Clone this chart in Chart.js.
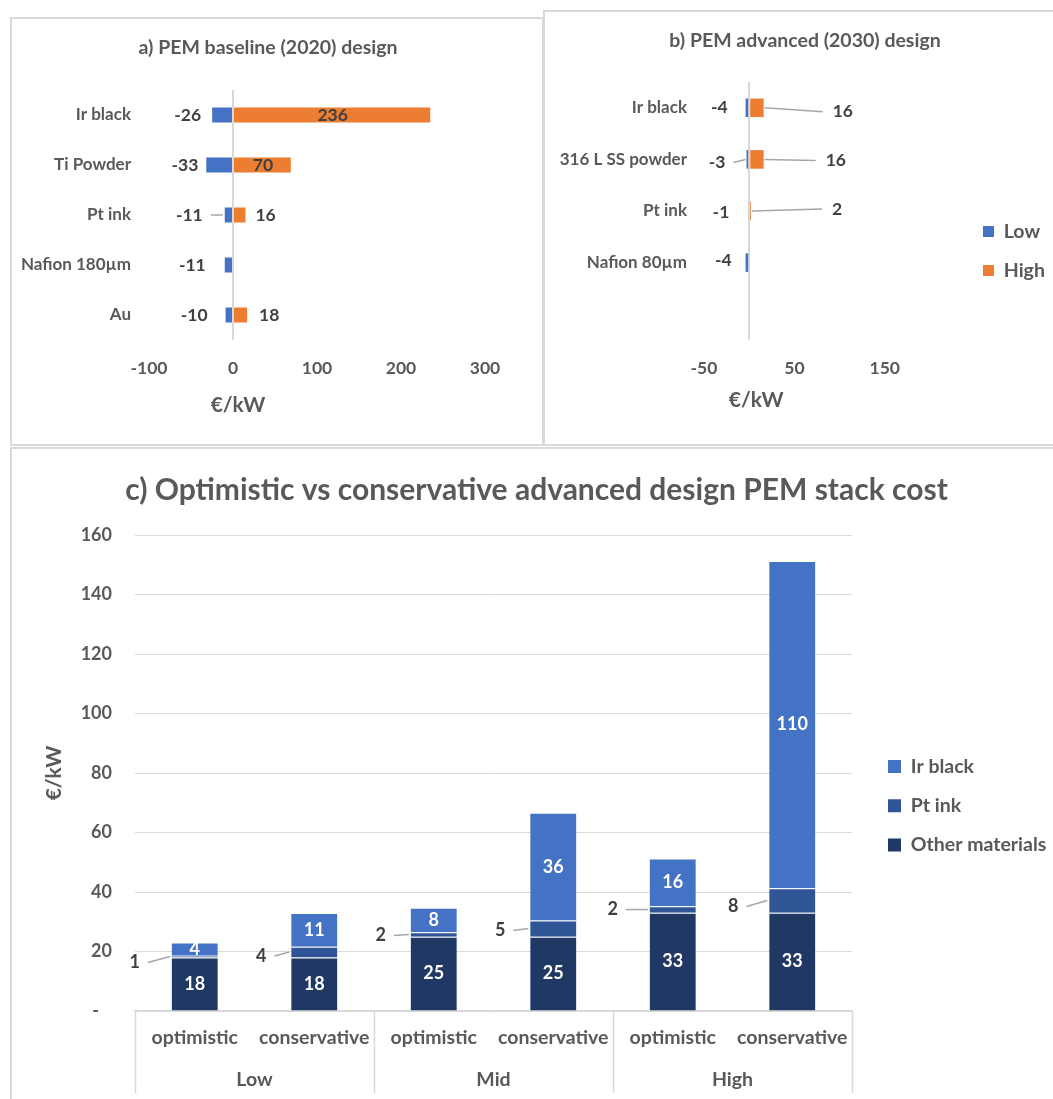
<!DOCTYPE html>
<html>
<head>
<meta charset="utf-8">
<script src="https://cdn.jsdelivr.net/npm/chart.js@4.4.1/dist/chart.umd.min.js"></script>
<style>
  body { margin: 0; background: #fff; width: 1053px; height: 1099px; overflow: hidden; position: relative; }
  .panel { position: absolute; border: 2px solid #d9d9d9; box-sizing: border-box; }
  canvas { position: absolute; }
</style>
</head>
<body>
<div class="panel" style="left:10px;top:17px;width:534px;height:429px"></div>
<div class="panel" style="left:543px;top:10px;width:530px;height:436px"></div>
<div class="panel" style="left:10px;top:447px;width:1060px;height:670px"></div>
<canvas id="chart-a" width="531" height="428" style="left:10px;top:17px"></canvas>
<canvas id="chart-b" width="510" height="435" style="left:543px;top:10px"></canvas>
<canvas id="chart-c" width="1043" height="652" style="left:10px;top:447px"></canvas>

<script>
// ---- datos ----
const catsA = ['Ir black', 'Ti Powder', 'Pt ink', 'Nafion 180µm', 'Au'];
const lowA  = [-26, -33, -11, -11, -10];
const highA = [236, 70, 16, null, 18];
const ticksA = [-100, 0, 100, 200, 300];

const catsB = ['Ir black', '316 L SS powder', 'Pt ink', 'Nafion 80µm', ''];
const lowB  = [-4, -3, -1, -4, null];
const highB = [16, 16, 2, null, null];
const ticksB = [-50, 50, 150];

const scenarios = ['optimistic', 'conservative', 'optimistic', 'conservative', 'optimistic', 'conservative'];
const cases     = ['Low', 'Mid', 'High'];
const otherC = [18, 18, 25, 25, 33, 33];
const ptC    = [0.6, 3.6, 1.5, 5.4, 2.2, 8.3];
const irC    = [4.4, 11.3, 8.2, 36.2, 16.1, 110];

// ---- estilo ----
const BLUE = '#4472C4', ORANGE = '#ED7D31', PT = '#2F5597', NAVY = '#203864';
const GRID = '#d9d9d9', TXT = '#595959', LBL = '#404040';
const EDGE = 'rgba(255,255,255,0.3)';
const EDGE_C = 'rgba(255,255,255,0.18)';
const FAMILY = 'Lato, "Open Sans", sans-serif';

Chart.defaults.font.family = FAMILY;
Chart.defaults.font.size = 17;
Chart.defaults.font.weight = 'bold';
Chart.defaults.color = TXT;
Chart.defaults.animation = false;

const noEdge = chart =>
  Chart.defaults.plugins.legend.labels.generateLabels(chart).map(l => ({ ...l, lineWidth: 0 }));

// etiquetas de valor + líneas guía
const valueLabels = {
  id: 'valueLabels',
  afterDatasetsDraw(chart, args, opts) {
    const ctx = chart.ctx;
    const horiz = chart.options.indexAxis === 'y';
    ctx.save();
    ctx.font = `bold ${opts.size || 17}px ${FAMILY}`;
    ctx.textBaseline = 'middle';
    (opts.series || []).forEach(s => {
      const ds = chart.data.datasets[s.index];
      chart.getDatasetMeta(s.index).data.forEach((bar, i) => {
        const v = ds.data[i];
        if (v === null || v === undefined) return;
        const gap = s.gap ? s.gap[i] : 0;
        const dy = s.dy ? s.dy[i] : 0;
        let x, y, align, x0, y0;
        if (horiz) {
          y = bar.y + dy; y0 = bar.y;
          const len = Math.abs(bar.x - bar.base);
          if (s.inside && len > 45) { x = (bar.x + bar.base) / 2; align = 'center'; }
          else if (v < 0) { x = bar.x - gap; align = 'right'; x0 = bar.x - 1; }
          else { x = bar.x + gap; align = 'left'; x0 = bar.x + 1; }
        } else if (s.side === 'left') {
          y0 = (bar.y + bar.base) / 2; y = y0 + dy;
          x0 = bar.x - bar.width / 2 - 1; x = bar.x - bar.width / 2 - gap; align = 'right';
        } else {
          x = bar.x; y = (bar.y + bar.base) / 2; align = 'center';
        }
        if (s.leader && s.leader[i] && align !== 'center') {
          const xe = align === 'right' ? x + 8 : x - 10;
          ctx.strokeStyle = '#a6a6a6';
          ctx.lineWidth = 1.5;
          ctx.beginPath(); ctx.moveTo(x0, y0); ctx.lineTo(xe, y); ctx.stroke();
        }
        ctx.fillStyle = align === 'center' ? s.insideColor : LBL;
        ctx.textAlign = align;
        ctx.fillText(String(Math.round(v)), x, y);
      });
    });
    if (opts.axisTitle) {
      const t = opts.axisTitle;
      ctx.font = `bold 21px ${FAMILY}`;
      ctx.fillStyle = TXT;
      ctx.textAlign = 'center';
      ctx.fillText(t.text, chart.scales.x.getPixelForValue(0) + t.dx, t.y);
    }
    ctx.restore();
  }
};

// título centrado en x fijo, leyenda con ancho y posición fijos
const placeBoxes = {
  id: 'placeBoxes',
  beforeLayout(chart, args, opts) {
    const lg = chart.legend;
    if (!opts.legend || !lg || lg.$fixed) return;
    const fit = lg.fit;
    lg.fit = function () { fit.call(this); this.width = opts.legend.width; };
    lg.$fixed = true;
  },
  afterLayout(chart, args, opts) {
    const t = chart.titleBlock;
    if (opts.titleX !== undefined && t) {
      const w = t.right - t.left;
      t.left = opts.titleX - w / 2; t.right = t.left + w;
    }
    if (opts.legend) {
      const lg = chart.legend, o = opts.legend;
      lg.left = o.x; lg.right = o.x + o.width;
      lg.top = o.y; lg.bottom = o.y + 300;
    }
  }
};

const zeroLine = c => (c.tick && c.tick.value === 0) ? GRID : 'rgba(0,0,0,0)';

// ---- a) PEM baseline ----
new Chart(document.getElementById('chart-a'), {
  type: 'bar',
  data: {
    labels: catsA,
    datasets: [
      { label: 'Low', data: lowA, backgroundColor: BLUE, borderColor: EDGE, borderWidth: 1, categoryPercentage: 1, barPercentage: 0.34 },
      { label: 'High', data: highA, backgroundColor: ORANGE, borderColor: EDGE, borderWidth: 1, categoryPercentage: 1, barPercentage: 0.34 }
    ]
  },
  options: {
    indexAxis: 'y',
    responsive: false,
    layout: { padding: { left: 5, right: 56, top: 0, bottom: 45 } },
    plugins: {
      legend: { display: false },
      tooltip: { enabled: false },
      title: { display: true, text: 'a) PEM baseline (2020) design', color: TXT, font: { size: 19.5 }, padding: { top: 19.3, bottom: 30.3 } },
      placeBoxes: { titleX: 258 },
      valueLabels: {
        size: 17.5,
        series: [
          { index: 0, inside: true, insideColor: LBL, gap: [10, 7, 21, 18, 17], leader: [0, 0, 1, 0, 0] },
          { index: 1, inside: true, insideColor: LBL, gap: [0, 0, 9, 0, 11] }
        ],
        axisTitle: { text: '€/kW', dx: 5, y: 388 }
      }
    },
    scales: {
      x: {
        stacked: true, min: ticksA[0], max: ticksA[ticksA.length - 1],
        ticks: { stepSize: 100, padding: 18, font: { size: 17.5 } },
        grid: { color: zeroLine, lineWidth: 2, drawTicks: false },
        border: { display: false },
        afterFit: s => { s.height = 60; }
      },
      y: {
        stacked: true,
        grid: { display: false, drawTicks: false }, border: { display: false },
        ticks: { padding: 18 },
        afterFit: s => { s.width = 134; }
      }
    }
  },
  plugins: [valueLabels, placeBoxes]
});

// ---- b) PEM advanced ----
new Chart(document.getElementById('chart-b'), {
  type: 'bar',
  data: {
    labels: catsB,
    datasets: [
      { label: 'Low', data: lowB, backgroundColor: BLUE, borderWidth: 0, categoryPercentage: 1, barPercentage: 0.36 },
      { label: 'High', data: highB, backgroundColor: ORANGE, borderWidth: 0, categoryPercentage: 1, barPercentage: 0.36 }
    ]
  },
  options: {
    indexAxis: 'y',
    responsive: false,
    layout: { padding: { left: 5, right: 5, top: 0, bottom: 45 } },
    plugins: {
      legend: {
        position: 'right', align: 'start',
        labels: { boxWidth: 11, boxHeight: 11, padding: 19.5, color: TXT, font: { size: 19.5 }, generateLabels: noEdge }
      },
      tooltip: { enabled: false },
      title: { display: true, text: 'b) PEM advanced (2030) design', color: TXT, font: { size: 19.5 }, padding: { top: 19.3, bottom: 29.3 } },
      placeBoxes: { titleX: 262, legend: { width: 118, x: 420.5, y: 192.25 } },
      valueLabels: {
        size: 17.5,
        series: [
          { index: 0, gap: [18, 21, 19, 14, 0], dy: [0, 3, 1, -2, 0], leader: [0, 1, 0, 0, 0] },
          { index: 1, gap: [69, 62, 81, 0, 0], dy: [4, 1, -2, 0, 0], leader: [1, 1, 1, 0, 0] }
        ],
        axisTitle: { text: '€/kW', dx: 7, y: 390 }
      }
    },
    scales: {
      x: {
        stacked: true, min: -50, max: 200,
        ticks: { stepSize: 50, padding: 18, font: { size: 17.5 }, callback: v => ticksB.includes(v) ? v : '' },
        grid: { color: zeroLine, lineWidth: 2, drawTicks: false },
        border: { display: false },
        afterFit: s => { s.height = 60; }
      },
      y: {
        stacked: true,
        grid: { display: false, drawTicks: false }, border: { display: false },
        ticks: { padding: 17 },
        afterFit: s => { s.width = 156; }
      }
    }
  },
  plugins: [valueLabels, placeBoxes]
});

// ---- c) optimista vs conservador ----
new Chart(document.getElementById('chart-c'), {
  type: 'bar',
  data: {
    labels: scenarios,
    datasets: [
      { label: 'Other materials', data: otherC, backgroundColor: NAVY, borderColor: EDGE_C, borderWidth: 1, categoryPercentage: 1, barPercentage: 0.4 },
      { label: 'Pt ink', data: ptC, backgroundColor: PT, borderColor: EDGE_C, borderWidth: 1, categoryPercentage: 1, barPercentage: 0.4 },
      { label: 'Ir black', data: irC, backgroundColor: BLUE, borderColor: EDGE_C, borderWidth: 1, categoryPercentage: 1, barPercentage: 0.4 }
    ]
  },
  options: {
    responsive: false,
    layout: { padding: { left: 25, right: 15, top: 0, bottom: 0 } },
    plugins: {
      legend: {
        position: 'right', align: 'start', reverse: true,
        labels: { boxWidth: 13, boxHeight: 13, padding: 19.8, color: TXT, font: { size: 19.5 }, generateLabels: noEdge }
      },
      tooltip: { enabled: false },
      title: {
        display: true, text: 'c) Optimistic vs conservative advanced design PEM stack cost',
        color: TXT, font: { size: 30 }, padding: { top: 25, bottom: 27 }
      },
      placeBoxes: { titleX: 526.5, legend: { width: 186, x: 858.2, y: 289.85 } },
      valueLabels: {
        size: 18,
        series: [
          { index: 0, insideColor: '#ffffff' },
          { index: 1, side: 'left', gap: [31, 24, 24, 24, 31, 30], dy: [6, 4, 1, 2, 0, 6], leader: [1, 1, 1, 1, 1, 1] },
          { index: 2, insideColor: '#ffffff' }
        ]
      }
    },
    scales: {
      x: {
        stacked: true, offset: true,
        grid: {
          display: true, offset: true, drawOnChartArea: false, drawTicks: true,
          tickLength: 82, tickWidth: 1.5,
          tickColor: c => (c.index === undefined || c.index % 2 === 0) ? GRID : 'rgba(0,0,0,0)'
        },
        border: { display: true, color: GRID, width: 1.5 },
        ticks: { padding: -66.5, autoSkip: false, maxRotation: 0, font: { size: 19.5 } },
        afterFit: s => { s.height = 40; }
      },
      x2: {
        type: 'category', labels: cases, position: 'bottom', offset: true, weight: 1,
        grid: { display: false, drawTicks: false }, border: { display: false },
        ticks: { padding: 17.5, font: { size: 19.5 } },
        afterFit: s => { s.height = 48; }
      },
      y: {
        stacked: true, min: 0, max: 160,
        ticks: { stepSize: 20, padding: 23, font: { size: 18 }, callback: v => v === 0 ? '-   ' : v },
        grid: { color: GRID, drawTicks: false },
        border: { display: false },
        title: { display: true, text: '€/kW', color: TXT, font: { size: 21 }, padding: { top: 7, bottom: 0 } },
        afterFit: s => { s.width = 100; }
      }
    }
  },
  plugins: [valueLabels, placeBoxes]
});
</script>
</body>
</html>
